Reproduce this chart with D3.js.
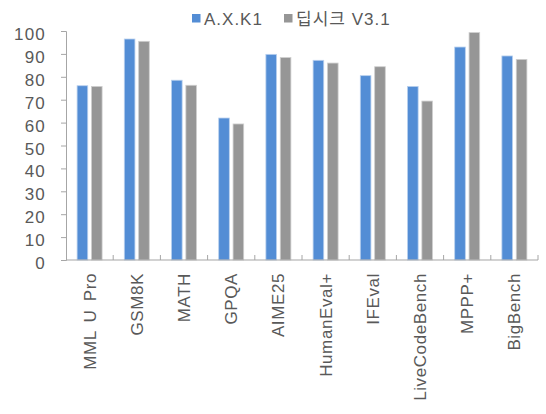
<!DOCTYPE html>
<html>
<head>
<meta charset="utf-8">
<script src="https://cdn.jsdelivr.net/npm/d3@7"></script>
<style>
  html, body { margin: 0; padding: 0; background: #fff; }
  svg text { font-family: "Liberation Sans", "Noto Sans CJK KR", sans-serif; fill: #595959; }
</style>
</head>
<body>
<svg id="chart" width="546" height="414"></svg>
<script>
// Benchmark scores for the two models
const categories = ["MML U Pro", "GSM8K", "MATH", "GPQA", "AIME25", "HumanEval+", "IFEval", "LiveCodeBench", "MPPP+", "BigBench"];
const seriesNames = ["A.X.K1", "딥시크 V3.1"];
const axk1Values = [76.1, 96.5, 78.5, 62.0, 89.8, 87.2, 80.5, 75.8, 93.0, 89.1];
const deepseekValues = [75.8, 95.5, 76.3, 59.4, 88.4, 86.0, 84.4, 69.4, 99.3, 87.6];
const yTicks = [0, 10, 20, 30, 40, 50, 60, 70, 80, 90, 100];

const colors = ["#538DD5", "#969696"];
const strokes = ["#B9D0EE", "#CFCFCF"];
const textColor = "#595959";
const axisColor = "#A6A6A6";

const svg = d3.select("#chart");
const margin = { left: 66, right: 8, top: 31, bottom: 154 };
const W = 546, H = 414;

const x = d3.scaleBand().domain(categories).range([margin.left, W - margin.right]).paddingInner(0).paddingOuter(0);
const y = d3.scaleLinear().domain([0, 100]).range([H - margin.bottom, margin.top]);
const sub = d3.scaleBand().domain([0, 1]).range([-12.5, 12.5]).paddingInner(0.26);

const series = [axk1Values, deepseekValues];

// bars
series.forEach((vals, si) => {
  svg.append("g").selectAll("rect").data(vals).join("rect")
    .attr("x", (d, i) => x(categories[i]) + x.bandwidth() / 2 + sub(si))
    .attr("y", d => y(d))
    .attr("width", sub.bandwidth())
    .attr("height", d => y(0) - y(d))
    .attr("fill", colors[si])
    .attr("stroke", strokes[si])
    .attr("stroke-width", 0.8);
});

// y axis
const yAxis = svg.append("g").attr("transform", `translate(${margin.left},0)`)
  .call(d3.axisLeft(y).tickValues(yTicks).tickSize(5).tickPadding(15));
yAxis.select(".domain").attr("stroke", axisColor);
yAxis.selectAll(".tick line").attr("stroke", axisColor);
yAxis.selectAll(".tick text")
  .attr("font-size", 17)
  .attr("dy", "0.5em")
  .attr("fill", textColor)
  .style("font-family", '"Liberation Sans", sans-serif')
  .style("letter-spacing", "1.2px");

// x axis baseline and category separators
const x0 = y(0);
svg.append("line").attr("x1", margin.left).attr("x2", W - margin.right)
  .attr("y1", x0).attr("y2", x0).attr("stroke", axisColor).attr("stroke-width", 1.2);
svg.append("g").selectAll("line").data(categories)
  .join("line")
  .attr("x1", d => x(d) + x.bandwidth())
  .attr("x2", d => x(d) + x.bandwidth())
  .attr("y1", x0 - 5).attr("y2", x0)
  .attr("stroke", axisColor);

// category labels, rotated
svg.append("g").selectAll("text").data(categories).join("text")
  .attr("transform", d => `translate(${x(d) + x.bandwidth() / 2 + 6},${x0 + 13}) rotate(-90)`)
  .attr("text-anchor", "end")
  .attr("font-size", 17)
  .attr("fill", textColor)
  .style("letter-spacing", "0.6px")
  .style("word-spacing", "3px")
  .text(d => d);

// legend
const legend = svg.append("g");
const legendItems = [{ x: 192, name: seriesNames[0] }, { x: 284, name: seriesNames[1] }];
legendItems.forEach((it, i) => {
  legend.append("rect").attr("x", it.x).attr("y", 14).attr("width", 8.5).attr("height", 8.5).attr("fill", colors[i]);
  legend.append("text").attr("x", it.x + 12).attr("y", 25)
    .attr("font-size", 17).attr("fill", textColor)
    .style("letter-spacing", "1px")
    .text(it.name);
});
</script>
</body>
</html>
